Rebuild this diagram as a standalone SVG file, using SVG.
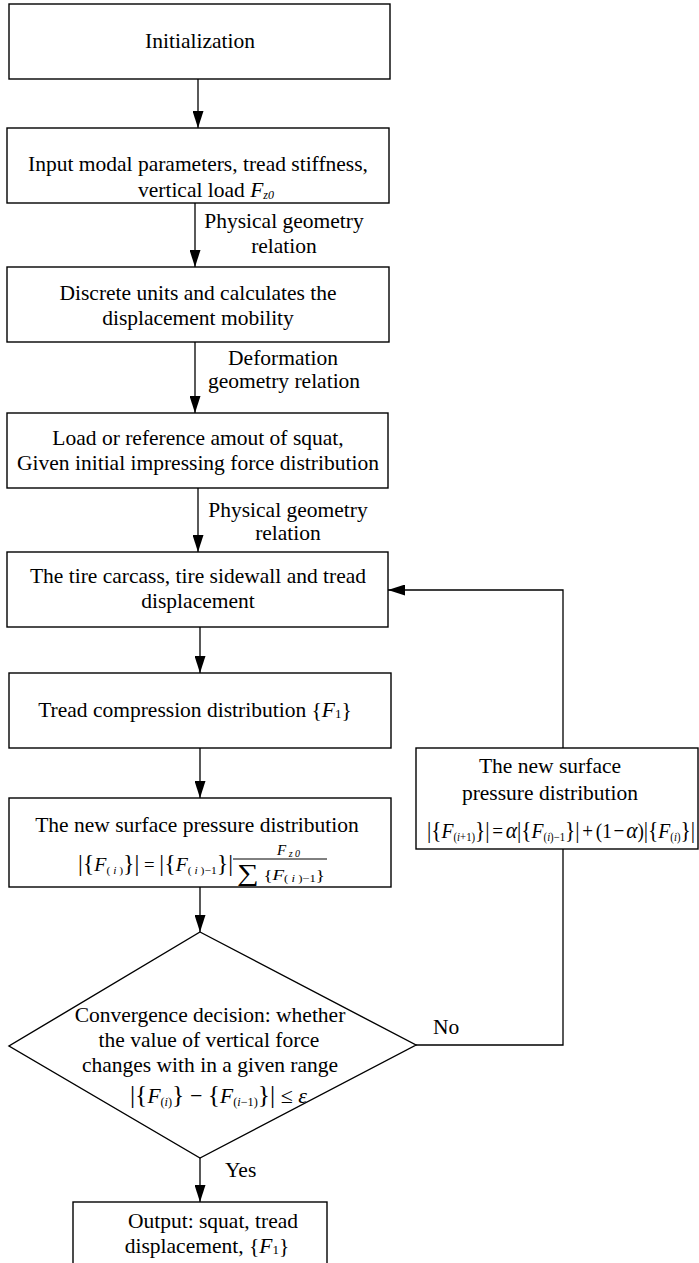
<svg xmlns="http://www.w3.org/2000/svg" width="699" height="1263" viewBox="0 0 699 1263">
<style>
text{font-family:"Liberation Serif","Times New Roman",serif;font-size:21.5px;fill:#000}
.c{text-anchor:middle}
.i{font-style:italic}
.box{fill:#fff;stroke:#000;stroke-width:1.4}
.ln{fill:none;stroke:#000;stroke-width:1.3}
</style>
<defs>
<marker id="ah" markerUnits="userSpaceOnUse" markerWidth="17" markerHeight="11" refX="17" refY="5.5" orient="auto">
<path d="M0,0 L17,5.5 L0,11 z" fill="#000"/>
</marker>
</defs>
<rect width="699" height="1263" fill="#fff"/>
<g id="connectors">
<line class="ln" x1="198" y1="79" x2="198" y2="128" marker-end="url(#ah)"/>
<line class="ln" x1="195" y1="203" x2="195" y2="267" marker-end="url(#ah)"/>
<line class="ln" x1="195" y1="342" x2="195" y2="413" marker-end="url(#ah)"/>
<line class="ln" x1="198" y1="488" x2="198" y2="552" marker-end="url(#ah)"/>
<line class="ln" x1="200" y1="627" x2="200" y2="673" marker-end="url(#ah)"/>
<line class="ln" x1="200" y1="748" x2="200" y2="798" marker-end="url(#ah)"/>
<line class="ln" x1="200" y1="887" x2="200" y2="932" marker-end="url(#ah)"/>
<line class="ln" x1="200" y1="1158" x2="200" y2="1202" marker-end="url(#ah)"/>
<polyline class="ln" points="416,1045 563,1045 563,849"/>
<polyline class="ln" points="563,748 563,590 388,590" marker-end="url(#ah)"/>
<text x="284" y="228" class="c">Physical geometry</text>
<text x="284" y="253" class="c">relation</text>
<text x="283" y="365" class="c">Deformation</text>
<text x="284" y="388" class="c">geometry relation</text>
<text x="288" y="517" class="c">Physical geometry</text>
<text x="288" y="540" class="c">relation</text>
<text x="433" y="1034">No</text>
<text x="225" y="1177">Yes</text>
</g>
<g id="n1">
<rect class="box" x="9" y="4" width="381" height="75"/>
<text x="200" y="48" class="c">Initialization</text>
</g>
<g id="n2">
<rect class="box" x="7" y="128" width="382" height="75"/>
<text x="198" y="171" class="c">Input modal parameters, tread stiffness,</text>
<text x="206" y="197" class="c">vertical load <tspan class="i">F</tspan><tspan class="i" font-size="12" dy="2">z0</tspan></text>
</g>
<g id="n3">
<rect class="box" x="7" y="267" width="382" height="75"/>
<text x="198" y="300" class="c">Discrete units and calculates the</text>
<text x="198" y="325" class="c">displacement mobility</text>
</g>
<g id="n4">
<rect class="box" x="7" y="413" width="381" height="75"/>
<text x="198" y="445" class="c">Load or reference amout of squat,</text>
<text x="198" y="470" class="c">Given initial impressing force distribution</text>
</g>
<g id="n5">
<rect class="box" x="7" y="552" width="381" height="75"/>
<text x="198" y="583" class="c">The tire carcass, tire sidewall and tread</text>
<text x="198" y="608" class="c">displacement</text>
</g>
<g id="n6">
<rect class="box" x="9" y="673" width="382" height="75"/>
<text x="195" y="717" class="c">Tread compression distribution {<tspan class="i">F</tspan><tspan font-size="13" dy="1">1</tspan><tspan dy="-1">}</tspan></text>
</g>
<g id="n7">
<rect class="box" x="9" y="798" width="382" height="89"/>
<text x="197" y="832" class="c">The new surface pressure distribution</text>
<text x="78" y="871" textLength="155" lengthAdjust="spacingAndGlyphs"><tspan font-size="23">|{</tspan><tspan class="i" font-size="19">F</tspan><tspan font-size="11" dy="3">( <tspan class="i">i</tspan> )</tspan><tspan font-size="23" dy="-3">}|</tspan><tspan font-size="18"> = </tspan><tspan font-size="23">|{</tspan><tspan class="i" font-size="19">F</tspan><tspan font-size="11" dy="3">( <tspan class="i">i</tspan> )−1</tspan><tspan font-size="23" dy="-3">}|</tspan></text>
<line x1="233" y1="859" x2="327" y2="859" stroke="#000" stroke-width="1"/>
<text x="277" y="855"><tspan class="i" font-size="15">F</tspan><tspan class="i" font-size="10" dy="2"> z 0</tspan></text>
<text x="237" y="880" textLength="88" lengthAdjust="spacingAndGlyphs"><tspan font-size="24" dy="1">∑</tspan><tspan font-size="15" dy="-1">  {</tspan><tspan class="i" font-size="15">F</tspan><tspan font-size="10" dy="2">( <tspan class="i">i</tspan> )−1</tspan><tspan font-size="15" dy="-2">}</tspan></text>
</g>
<g id="n8">
<polygon class="box" points="200,932 416,1045 200,1158 9,1046"/>
<text x="210" y="1022" class="c">Convergence decision: whether</text>
<text x="209" y="1047" class="c">the value of vertical force</text>
<text x="210" y="1072" class="c">changes with in a given range</text>
<text x="130" y="1103" textLength="177" lengthAdjust="spacingAndGlyphs"><tspan font-size="25">|{</tspan><tspan class="i" font-size="21">F</tspan><tspan font-size="12" dy="3">(<tspan class="i">i</tspan>)</tspan><tspan font-size="25" dy="-3">}</tspan> − <tspan font-size="25">{</tspan><tspan class="i" font-size="21">F</tspan><tspan font-size="12" dy="3">(<tspan class="i">i</tspan>−1)</tspan><tspan font-size="25" dy="-3">}|</tspan> ≤  <tspan class="i">ε</tspan></text>
</g>
<g id="n9">
<rect class="box" x="416" y="748" width="282" height="101"/>
<text x="550" y="773" class="c">The new surface</text>
<text x="550" y="800" class="c">pressure distribution</text>
<text x="427" y="838" textLength="268" lengthAdjust="spacingAndGlyphs"><tspan font-size="24">|{</tspan><tspan class="i" font-size="22">F</tspan><tspan font-size="12" dy="3">(<tspan class="i">i</tspan>+1)</tspan><tspan font-size="24" dy="-3">}|</tspan><tspan dx="3">=</tspan><tspan class="i" font-size="24" dx="3">α</tspan><tspan font-size="24">|{</tspan><tspan class="i" font-size="22">F</tspan><tspan font-size="12" dy="3">(<tspan class="i">i</tspan>)−1</tspan><tspan font-size="24" dy="-3">}|</tspan><tspan dx="3">+</tspan><tspan dx="3">(1</tspan><tspan dx="2">−</tspan><tspan class="i" font-size="24" dx="2">α</tspan>)<tspan font-size="24">|{</tspan><tspan class="i" font-size="22">F</tspan><tspan font-size="12" dy="3">(<tspan class="i">i</tspan>)</tspan><tspan font-size="24" dy="-3">}|</tspan></text>
</g>
<g id="n10">
<rect class="box" x="73" y="1202" width="254" height="80"/>
<text x="213" y="1228" class="c">Output: squat, tread</text>
<text x="207" y="1253" class="c">displacement, {<tspan class="i">F</tspan><tspan font-size="13" dy="1">1</tspan><tspan dy="-1">}</tspan></text>
</g>
</svg>
